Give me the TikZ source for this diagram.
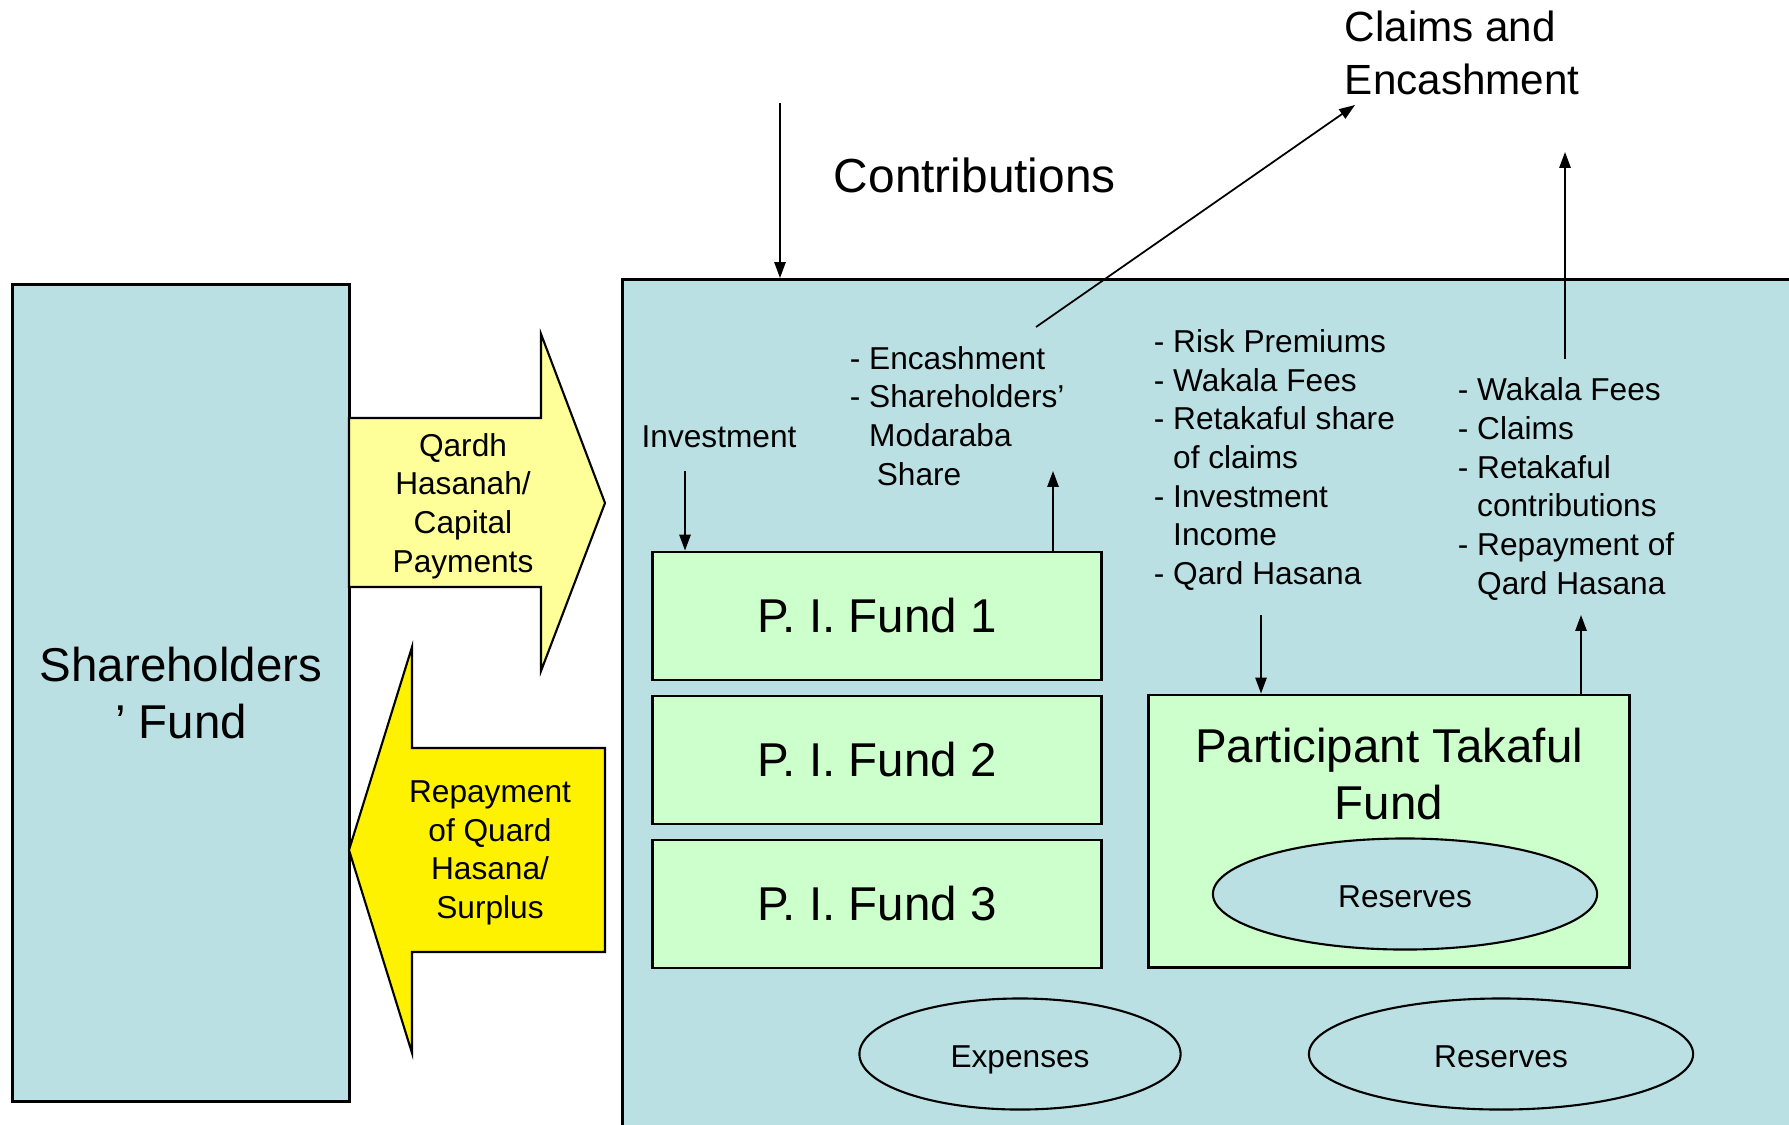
\documentclass[tikz,border=0pt]{standalone}
\usepackage{fontspec}
\setmainfont{Liberation Sans}
\usetikzlibrary{shapes.geometric,arrows.meta}
\definecolor{fundblue}{HTML}{BBE0E3}
\definecolor{fundgreen}{HTML}{CCFFCC}
\definecolor{paleyellow}{HTML}{FFFF99}
\begin{document}
\begin{tikzpicture}[x=0.01cm,y=-0.01cm,->,>={Triangle[length=4.5pt,width=3.2pt]},line width=0.5pt,
    big text/.style={font=\fontsize{13.5}{16.2}\selectfont,align=center},
    small text/.style={font=\fontsize{9}{11}\selectfont,inner sep=0pt,align=left,anchor=west},
    box node/.style={rectangle,draw,line width=0.8pt,inner sep=0pt},
    fund node/.style={box node,fill=fundgreen,minimum width=4.48cm,minimum height=1.28cm,big text},
    oval node/.style={ellipse,draw,line width=0.6pt,fill=fundblue,inner sep=0pt,minimum height=1.11cm,
      text height=0.76em,text depth=0pt,font=\fontsize{9}{11}\selectfont},
    block arrow/.style={draw,line width=0.6pt,-}]
  \useasboundingbox (0,0) rectangle (1789,1124);
  \clip (0,0) rectangle (1789,1124);
  % funds
  \node[box node,fill=fundblue,minimum width=12cm,minimum height=9cm,anchor=north west] (2) at (621,278) {};
  \node[box node,fill=fundblue,minimum width=3.365cm,minimum height=8.16cm,big text] (1) at (181,693) {Shareholders\\’ Fund};
  \node[fund node] (3) at (877,616) {P. I. Fund 1};
  \node[fund node] (4) at (877,760) {P. I. Fund 2};
  \node[fund node] (5) at (877,904) {P. I. Fund 3};
  \node[box node,fill=fundgreen,minimum width=4.8cm,minimum height=2.72cm] (6) at (1389,831) {};
  \node[big text] (7) at (1389,774) {Participant Takaful\\Fund};
  \node[oval node,minimum width=3.84cm] (8) at (1405,894) {Reserves};
  \node[oval node,minimum width=3.21cm] (9) at (1020,1054) {Expenses};
  \node[oval node,minimum width=3.84cm] (10) at (1501,1054) {Reserves};
  % block arrows
  \draw[block arrow,fill=paleyellow] (349,418) -- (541,418) -- (541,334) -- (605,503) -- (541,671) -- (541,587) -- (349,587) -- cycle;
  \draw[block arrow,fill=yellow] (349,850) -- (412,647) -- (412,748) -- (605,748) -- (605,952) -- (412,952) -- (412,1053) -- cycle;
  \node[small text,anchor=center,align=center] (11) at (463,506) {Qardh\\Hasanah/\\Capital\\Payments};
  \node[small text,anchor=center,align=center] (12) at (490,853) {Repayment\\of Quard\\Hasana/\\Surplus};
  % labels
  \node[font=\fontsize{13.6}{16}\selectfont,inner sep=0pt,anchor=west] (13) at (833,175) {Contributions};
  \node[font=\fontsize{12}{15}\selectfont,inner sep=0pt,anchor=west,align=left] (14) at (1344,53) {Claims and\\Encashment};
  \node[small text,anchor=center] (15) at (719,437) {Investment};
  \node[small text] (16) at (849,416) {- Encashment\\- Shareholders’\\\hspace*{0.61em}Modaraba\\\hspace*{0.85em}Share};
  \node[small text] (17) at (1153,460) {- Risk Premiums\\- Wakala Fees\\- Retakaful share\\\hspace*{0.61em}of claims\\- Investment\\\hspace*{0.61em}Income\\- Qard Hasana};
  \node[small text] (18) at (1457,489) {- Wakala Fees\\- Claims\\- Retakaful\\\hspace*{0.61em}contributions\\- Repayment of\\\hspace*{0.61em}Qard Hasana};
  % flows
  \coordinate (c1) at (780,103);
  \coordinate (c2) at (685,471);
  \coordinate (c3) at (1053,471);
  \coordinate (c4) at (1036,327);
  \coordinate (c5) at (1355,105);
  \coordinate (c6) at (1565,359);
  \coordinate (c7) at (1565,152);
  \coordinate (c8) at (1261,615);
  \coordinate (c9) at (1581,615);
  \draw (c1) -- (c1 |- 2.north);
  \draw (c2) -- (c2 |- 3.north);
  \draw (c3 |- 3.north) -- (c3);
  \draw (c4) -- (c5);
  \draw (c6) -- (c7);
  \draw (c8) -- (c8 |- 6.north);
  \draw (c9 |- 6.north) -- (c9);
\end{tikzpicture}
\end{document}
